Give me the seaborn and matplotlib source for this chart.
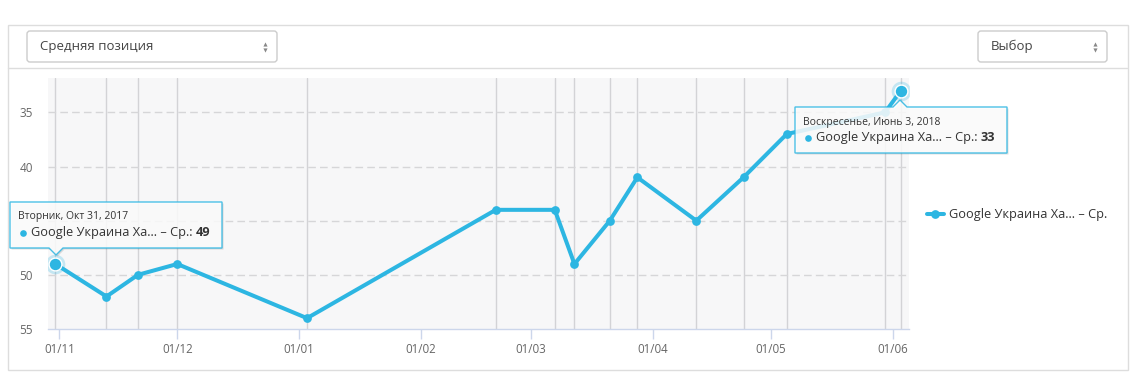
import matplotlib
matplotlib.use("Agg")

import matplotlib.pyplot as plt
import pandas as pd
import seaborn as sns
from matplotlib.patches import FancyBboxPatch, Polygon, Rectangle
import matplotlib.dates as mdates

# ---- data ----
dates = [
    "2017-10-31", "2017-11-13", "2017-11-21", "2017-12-01", "2018-01-03",
    "2018-02-20", "2018-03-07", "2018-03-12", "2018-03-21", "2018-03-28",
    "2018-04-12", "2018-04-24", "2018-05-05", "2018-05-30", "2018-06-03",
]
positions = [49, 52, 50, 49, 54, 44, 44, 49, 45, 41, 45, 41, 37, 35, 33]

y_ticks = [35, 40, 45, 50, 55]
month_ticks = pd.date_range("2017-11-01", "2018-06-01", freq="MS")

series_name = "Google Украина Ха... – Ср."
metric_label = "Средняя позиция"
select_label = "Выбор"
tooltip_dates = ["Вторник, Окт 31, 2017", "Воскресенье, Июнь 3, 2018"]

BLUE = "#2db6e2"
W, H = 1135, 382

df = pd.DataFrame({"date": pd.to_datetime(dates), "position": positions})

sns.set_theme(style="white")
plt.rcParams["font.family"] = ["Open Sans", "DejaVu Sans"]

fig = plt.figure(figsize=(W / 100, H / 100), dpi=100)
fig.patch.set_facecolor("white")

# plot area in pixels: x 48..909, y 78..329
ax = fig.add_axes([48 / W, 1 - 329 / H, (909 - 48) / W, (329 - 78) / H])
ax.set_facecolor("#f7f7f8")
ax.set_zorder(1)

# vertical lines at each data point
for d in df["date"]:
    ax.axvline(d, color="#d3d3d6", lw=1, zorder=0)

# dashed horizontal grid
for v in y_ticks[:-1]:
    ax.axhline(v, color="#d6d6d8", lw=1, ls=(0, (5.5, 3)), zorder=0)

sns.lineplot(
    data=df,
    x="date",
    y="position",
    color=BLUE,
    linewidth=2.9,
    marker="o",
    markersize=6.3,
    markeredgewidth=0,
    label=series_name,
    legend=False,
    ax=ax,
)

# hovered points with halo
for i in (0, len(df) - 1):
    ax.scatter(df["date"].iloc[i], df["position"].iloc[i], s=200,
               color=BLUE, alpha=0.25, linewidths=0, zorder=5)
    ax.scatter(df["date"].iloc[i], df["position"].iloc[i], s=85,
               color=BLUE, edgecolor="white", linewidths=1, zorder=6)

ax.set_ylim(55, 31.83)
ax.set_xlim(pd.Timestamp("2017-10-29 03:00"), pd.Timestamp("2018-06-05 02:00"))
ax.set_yticks(y_ticks)
ax.set_xticks(month_ticks)
ax.xaxis.set_major_formatter(mdates.DateFormatter("%d/%m"))
ax.set_xlabel("")
ax.set_ylabel("")

for s in ("top", "right", "left"):
    ax.spines[s].set_visible(False)
ax.spines["bottom"].set_color("#ccd6eb")
ax.spines["bottom"].set_linewidth(1)

ax.tick_params(axis="x", direction="out", length=7, width=1, color="#ccd6eb",
               labelsize=8.3, labelcolor="#666666", pad=3, bottom=True)
ax.tick_params(axis="y", length=0, labelsize=8.5, labelcolor="#666666", pad=11)

# the "45" label sits under the left tooltip in the reference
for lab, v in zip(ax.get_yticklabels(), y_ticks):
    if v == 45:
        lab.set_visible(False)

# legend outside the plot on the right
handles, labels = ax.get_legend_handles_labels()
leg = fig.legend(
    handles, labels,
    loc="center left",
    bbox_to_anchor=(927 / W, 1 - 215 / H),
    frameon=False,
    fontsize=9.2,
    handlelength=1.3,
    handletextpad=0.4,
    borderpad=0,
    borderaxespad=0,
)
for t in leg.get_texts():
    t.set_color("#333333")

# ---- overlay in pixel coordinates ----
ov = fig.add_axes([0, 0, 1, 1])
ov.set_xlim(0, W)
ov.set_ylim(H, 0)
ov.axis("off")
ov.patch.set_alpha(0)
ov.set_zorder(3)

# card frame and header separator
ov.add_patch(Rectangle((7.5, 24.5), 1120, 345, fill=False, ec="#dddddd", lw=1))
ov.plot([8, 1127], [68, 68], color="#dddddd", lw=1)

# dropdowns
for (x0, x1, label) in [(27, 277, metric_label), (978, 1107, select_label)]:
    ov.add_patch(FancyBboxPatch((x0, 31), x1 - x0, 31,
                                boxstyle="round,pad=0,rounding_size=3",
                                fc="white", ec="#cccccc", lw=1))
    ov.text(x0 + 13, 46.5, label, fontsize=9.5, color="#444444",
            va="center", ha="left")
    ov.plot([x1 - 12], [43.5], marker="^", ms=3, color="#888888", mew=0)
    ov.plot([x1 - 12], [49.5], marker="v", ms=3, color="#888888", mew=0)


def tooltip(x0, y0, x1, y1, px, tip_y, top, date_text, value):
    if top:
        pts = [(x0, y0), (px - 7, y0), (px, tip_y), (px + 7, y0),
               (x1, y0), (x1, y1), (x0, y1)]
    else:
        pts = [(x0, y0), (x1, y0), (x1, y1), (px + 7, y1), (px, tip_y),
               (px - 7, y1), (x0, y1)]
    shadow = [(x + 1.5, y + 1.5) for x, y in pts]
    ov.add_patch(Polygon(shadow, closed=True, fc="#000000", alpha=0.12, lw=0))
    ov.add_patch(Polygon(pts, closed=True, fc="white", alpha=0.85,
                         ec=BLUE, lw=1))
    ov.text(x0 + 8, y0 + 15, date_text, fontsize=7.5, color="#333333",
            va="center", ha="left")
    ov.plot([x0 + 12.5], [y0 + 31], marker="o", ms=4.8, color=BLUE, mew=0)
    t = ov.text(x0 + 21, y0 + 30.5, series_name + ": ", fontsize=9.2,
                color="#333333", va="center", ha="left")
    ov.annotate(str(value), xy=(1, 0), xycoords=t, va="bottom", ha="left",
                fontsize=9.2, fontweight="bold", color="#333333")


tooltip(10, 202, 222, 248, 56, 255, False, tooltip_dates[0], positions[0])
tooltip(795, 107, 1007, 153, 900, 100, True, tooltip_dates[1], positions[-1])

fig.savefig("out.png", dpi=100, facecolor="white")
